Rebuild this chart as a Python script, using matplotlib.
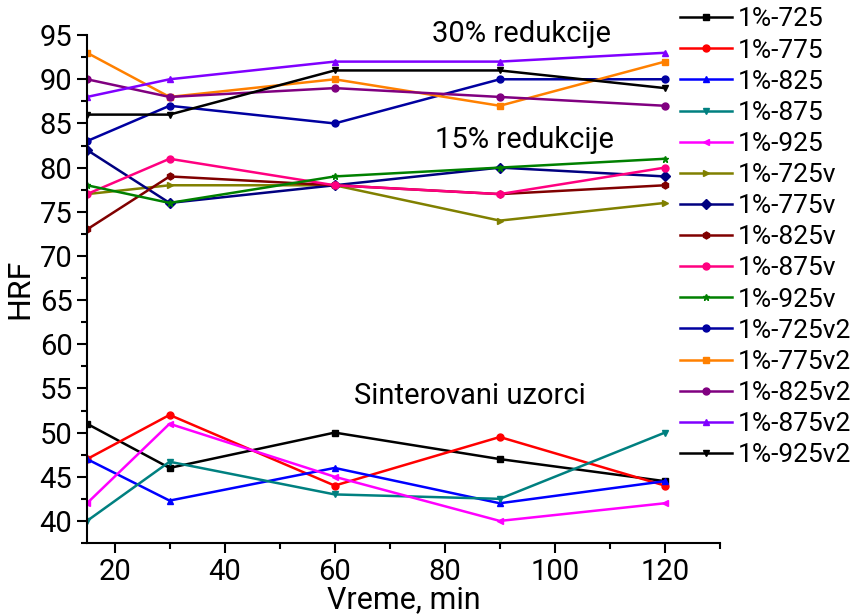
import numpy as np
import matplotlib.pyplot as plt
from matplotlib.ticker import MultipleLocator

plt.rcParams['font.family'] = ['Roboto', 'DejaVu Sans']

vreme = [15, 30, 60, 90, 120]

labels = ['1%-725', '1%-775', '1%-825', '1%-875', '1%-925',
          '1%-725v', '1%-775v', '1%-825v', '1%-875v', '1%-925v',
          '1%-725v2', '1%-775v2', '1%-825v2', '1%-875v2', '1%-925v2']

hrf_725 = [51, 46, 50, 47, 44.5]
hrf_775 = [47, 52, 44, 49.5, 44]
hrf_825 = [47, 42.3, 46, 42, 44.5]
hrf_875 = [40, 46.7, 43, 42.5, 50]
hrf_925 = [42, 51, 45, 40, 42]
hrf_725v = [77, 78, 78, 74, 76]
hrf_775v = [82, 76, 78, 80, 79]
hrf_825v = [73, 79, 78, 77, 78]
hrf_875v = [77, 81, 78, 77, 80]
hrf_925v = [78, 76, 79, 80, 81]
hrf_725v2 = [83, 87, 85, 90, 90]
hrf_775v2 = [93, 88, 90, 87, 92]
hrf_825v2 = [90, 88, 89, 88, 87]
hrf_875v2 = [88, 90, 92, 92, 93]
hrf_925v2 = [86, 86, 91, 91, 89]

series = [hrf_725, hrf_775, hrf_825, hrf_875, hrf_925,
          hrf_725v, hrf_775v, hrf_825v, hrf_875v, hrf_925v,
          hrf_725v2, hrf_775v2, hrf_825v2, hrf_875v2, hrf_925v2]

colors = ['#000000', '#ff0000', '#0000ff', '#008080', '#ff00ff',
          '#808000', '#000080', '#800000', '#ff0080', '#008000',
          '#0000a0', '#ff8000', '#800080', '#8000ff', '#000000']
markers = ['s', 'o', '^', 'v', '<', '>', 'D', 'h', 'o', '*',
           'o', 's', 'o', '^', 'v']

fig = plt.figure(figsize=(8.53, 6.16), dpi=100)
ax = fig.add_axes([0.102, 0.1185, 0.742, 0.8245])

for y, lab, c, m in zip(series, labels, colors, markers):
    ax.plot(vreme, y, color=c, marker=m, markersize=5, linewidth=1.8, label=lab)

ax.set_xlim(15, 130)
ax.set_ylim(37.5, 95)
ax.xaxis.set_major_locator(MultipleLocator(20))
ax.xaxis.set_minor_locator(MultipleLocator(10))
ax.yaxis.set_major_locator(MultipleLocator(5))
ax.yaxis.set_minor_locator(MultipleLocator(2.5))
ax.spines['top'].set_visible(False)
ax.spines['right'].set_visible(False)
ax.spines['left'].set_linewidth(1.5)
ax.spines['bottom'].set_linewidth(1.5)
ax.tick_params(which='major', length=7, width=1.5, labelsize=21)
ax.tick_params(which='minor', length=4, width=1.5)

ax.set_xlabel('Vreme, min', fontsize=22, labelpad=0)
ax.set_ylabel('HRF', fontsize=23, labelpad=4)

ax.text(77.6, 94.2, '30% redukcije', fontsize=21)
ax.text(78.2, 82.2, '15% redukcije', fontsize=21)
ax.text(63.6, 53.2, 'Sinterovani uzorci', fontsize=21)

fig.legend(loc='upper left', bbox_to_anchor=(0.785, 1.005), frameon=False,
           fontsize=19, handlelength=1.97, labelspacing=0.27, handletextpad=0.23,
           borderaxespad=0)

plt.savefig('out.png')
